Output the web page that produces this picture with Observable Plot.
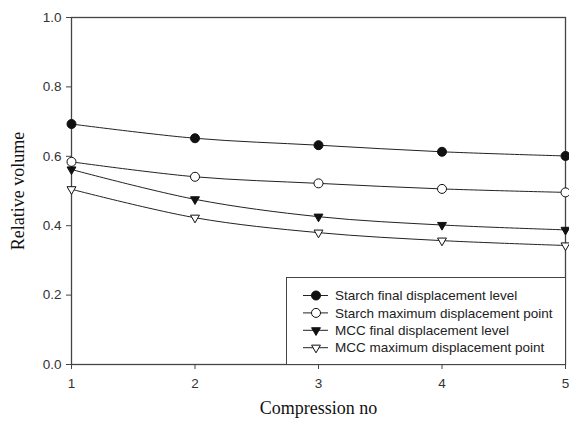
<!DOCTYPE html>
<html>
<head>
<meta charset="utf-8">
<script src="https://cdn.jsdelivr.net/npm/d3@7"></script>
<script src="https://cdn.jsdelivr.net/npm/@observablehq/plot@0.6"></script>
<style>
  html, body { margin: 0; padding: 0; background: white; }
  #wrap { position: relative; width: 569px; height: 424px; }
  #legend { position: absolute; left: 286px; top: 277px; width: 278px; height: 86px;
            border: 1px solid #444; background: white; box-sizing: content-box; }
</style>
</head>
<body>
<div id="wrap"><div id="legend"></div></div>
<script>
const compression = [1, 2, 3, 4, 5];
const starchFinal = [0.693, 0.652, 0.632, 0.613, 0.601];
const starchMax   = [0.584, 0.541, 0.522, 0.506, 0.496];
const mccFinal    = [0.562, 0.476, 0.426, 0.402, 0.388];
const mccMax      = [0.505, 0.423, 0.380, 0.357, 0.343];
const seriesNames = [
  "Starch final displacement level",
  "Starch maximum displacement point",
  "MCC final displacement level",
  "MCC maximum displacement point"
];
const yTicks = [0, 0.2, 0.4, 0.6, 0.8, 1.0];

const seriesValues = [starchFinal, starchMax, mccFinal, mccMax];
const symbols = ["circle", "circle", "triangle", "triangle"];
const fills = ["#111", "white", "#111", "white"];

const rows = [];
seriesValues.forEach((vals, i) => {
  vals.forEach((v, j) => rows.push({x: compression[j], y: v, s: seriesNames[i], k: i}));
});

const marks = [
  Plot.axisY({ticks: yTicks, tickFormat: d => d.toFixed(1), tickSize: 5, tickPadding: 5, label: null, stroke: "#444"}),
  Plot.axisX({ticks: compression, tickFormat: "d", tickSize: 5, tickPadding: 9, label: null, stroke: "#444"}),
  Plot.frame({stroke: "#444", strokeWidth: 1.3}),
  Plot.line(rows, {x: "x", y: "y", z: "s", stroke: "#222", strokeWidth: 1, curve: "catmull-rom"})
];
seriesNames.forEach((name, i) => {
  const data = rows.filter(d => d.k === i);
  marks.push(Plot.dot(data, {
    x: "x", y: "y",
    symbol: () => symbols[i],
    r: symbols[i] === "circle" ? 4.5 : 3.3,
    rotate: symbols[i] === "triangle" ? 180 : 0,
    fill: fills[i], stroke: "#111", strokeWidth: 1
  }));
});
marks.push(Plot.text(["Compression no"], {frameAnchor: "bottom", dy: 49, fontFamily: "Liberation Serif, Times New Roman, serif", fontSize: 18, fill: "#111"}));
marks.push(Plot.text(["Relative volume"], {frameAnchor: "left", textAnchor: "middle", dx: -53, rotate: -90, fontFamily: "Liberation Serif, Times New Roman, serif", fontSize: 18, fill: "#111"}));

const chart = Plot.plot({
  width: 569, height: 424,
  marginLeft: 71, marginRight: 4, marginTop: 17, marginBottom: 60,
  x: {domain: [1, 5]},
  y: {domain: [0, 1]},
  style: {fontFamily: "Liberation Sans, Arial, sans-serif", fontSize: "13.5px", color: "#333", background: "white"},
  marks
});
document.getElementById("wrap").prepend(chart);

// legend
const lsvg = d3.select("#legend").append("svg").attr("width", 278).attr("height", 86)
  .style("font-family", "Liberation Sans, Arial, sans-serif").style("font-size", "13.5px");
seriesNames.forEach((name, i) => {
  const cy = 17.5 + i * 17.4;
  const g = lsvg.append("g").attr("transform", `translate(0,${cy})`);
  g.append("line").attr("x1", 16).attr("x2", 41).attr("stroke", "#222").attr("stroke-width", 1);
  if (symbols[i] === "circle") {
    g.append("circle").attr("cx", 29).attr("r", 4.5).attr("fill", fills[i]).attr("stroke", "#111");
  } else {
    g.append("path").attr("d", d3.symbol(d3.symbolTriangle, 34)()).attr("transform", "translate(29,0) rotate(180)")
      .attr("fill", fills[i]).attr("stroke", "#111");
  }
  g.append("text").attr("x", 48).attr("dy", "0.35em").attr("fill", "#222").text(name);
});
</script>
</body>
</html>
